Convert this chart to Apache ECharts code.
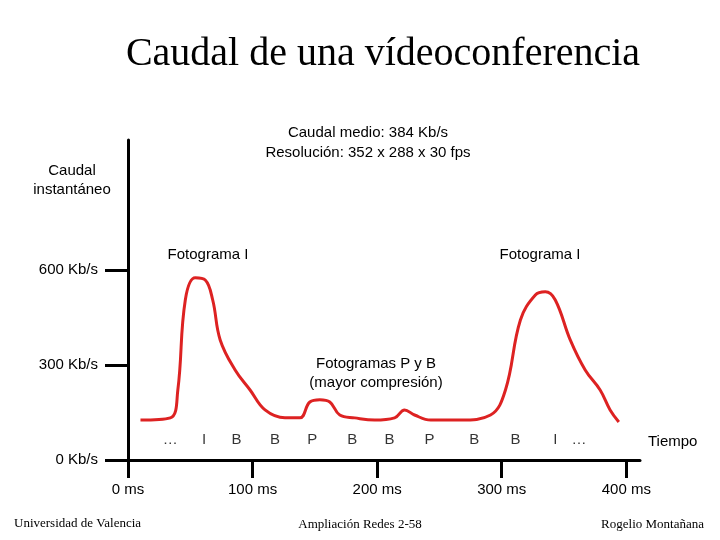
<!DOCTYPE html>
<html><head><meta charset="utf-8">
<script src="https://cdn.jsdelivr.net/npm/echarts@6/dist/echarts.min.js"></script>
<style>html,body{margin:0;padding:0;background:#fff}#c{width:720px;height:540px}</style>
</head><body><div id="c"></div>
<script>
const timeMs = [10,34,40,46,54,62,68,74,86,98,110,126,138,146,154,162,170,182,198,214,222,230,243,267,291,303,315,327,335,343,355,367,379,387,394];
const rateKbps = [126,133,221,505,575,568,505,379,284,221,158,133,133,183,190,183,142,133,126,133,158,142,126,126,142,221,442,521,531,505,379,284,221,158,120];
const frameLabels = ['…','I','B','B','P','B','B','P','B','B','I','…'];
const framePosMs = [34,61,87,118,148,180,210,242,278,311,343,362];
const xTickValues = [0,100,200,300,400];
const yTickValues = [0,300,600];

const chart = echarts.init(document.getElementById('c'));
const sans = 'Liberation Sans, Arial, sans-serif';
const serif = 'Liberation Serif, Times New Roman, serif';
chart.setOption({
  animation:false,
  grid:{left:128,top:140,width:512,height:320},
  xAxis:{type:'value',min:0,max:411,
    axisLine:{lineStyle:{color:'#000',width:3}},
    axisTick:{customValues:xTickValues,length:18,lineStyle:{color:'#000',width:3}},
    axisLabel:{customValues:xTickValues,margin:22,formatter:v=>v+' ms',fontFamily:sans,fontSize:15,color:'#000'},
    splitLine:{show:false}},
  yAxis:{type:'value',min:0,max:1010,
    axisLine:{show:true,lineStyle:{color:'#000',width:3}},
    axisTick:{show:true,customValues:yTickValues,length:23,lineStyle:{color:'#000',width:3}},
    axisLabel:{customValues:yTickValues,margin:30,formatter:v=>v+' Kb/s',fontFamily:sans,fontSize:15,color:'#000'},
    splitLine:{show:false}},
  series:[
    {type:'line',data:timeMs.map((t,i)=>[t,rateKbps[i]]),smooth:0.4,showSymbol:false,
     lineStyle:{color:'#dd2222',width:3}},
    {type:'scatter',data:framePosMs.map(t=>[t,63]),symbolSize:0,
     label:{show:true,position:'inside',formatter:p=>frameLabels[p.dataIndex],fontFamily:sans,fontSize:15,color:'#000'}}
  ],
  graphic:[
    {type:'text',x:383,y:34,style:{text:'Caudal de una vídeoconferencia',font:'40px '+serif,fill:'#000',align:'center'}},
    {type:'text',x:368,y:123,style:{text:'Caudal medio: 384 Kb/s\nResolución: 352 x 288 x 30 fps',font:'15px '+sans,fill:'#000',align:'center',lineHeight:20}},
    {type:'text',x:72,y:161,style:{text:'Caudal\ninstantáneo',font:'15px '+sans,fill:'#000',align:'center',lineHeight:19}},
    {type:'text',x:208,y:247,style:{text:'Fotograma I',font:'15px '+sans,fill:'#000',align:'center'}},
    {type:'text',x:540,y:247,style:{text:'Fotograma I',font:'15px '+sans,fill:'#000',align:'center'}},
    {type:'text',x:376,y:354,style:{text:'Fotogramas P y B\n(mayor compresión)',font:'15px '+sans,fill:'#000',align:'center',lineHeight:19}},
    {type:'text',x:648,y:434,style:{text:'Tiempo',font:'15px '+sans,fill:'#000'}},
    {type:'text',x:14,y:517,style:{text:'Universidad de Valencia',font:'13px '+serif,fill:'#000'}},
    {type:'text',x:360,y:518,style:{text:'Ampliación Redes 2-58',font:'13px '+serif,fill:'#000',align:'center'}},
    {type:'text',x:704,y:518,style:{text:'Rogelio Montañana',font:'13px '+serif,fill:'#000',align:'right'}}
  ]
});
</script></body></html>
